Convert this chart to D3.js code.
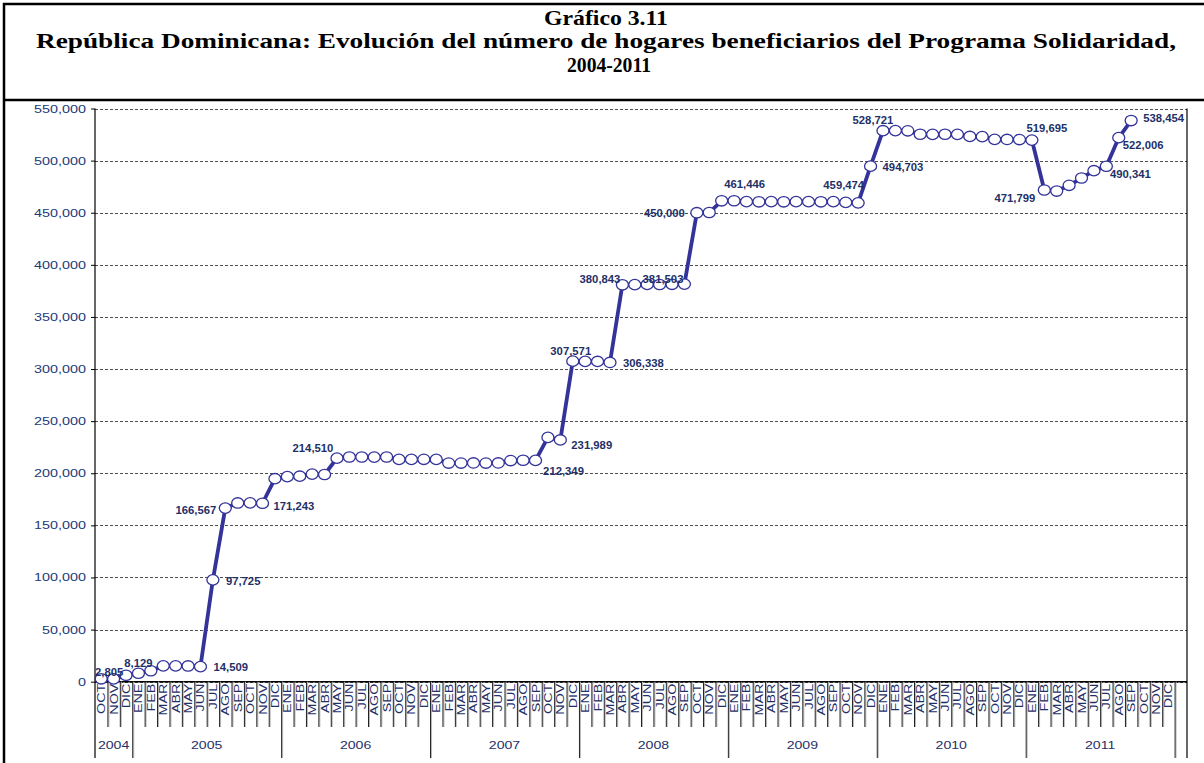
<!DOCTYPE html>
<html>
<head>
<meta charset="utf-8">
<title>Gráfico 3.11</title>
<script src="https://d3js.org/d3.v7.min.js"></script>
<style>
  body { margin: 0; background: #fff; }
</style>
</head>
<body>
<div id="chart"></div>
<script>
// months and years on the category axis
var months = ["ENE", "FEB", "MAR", "ABR", "MAY", "JUN", "JUL", "AGO", "SEP", "OCT", "NOV", "DIC"];
var years = ["2004", "2005", "2006", "2007", "2008", "2009", "2010", "2011"];
var firstMonth2004 = 9; // series starts in OCT 2004

// hogares beneficiarios, OCT 2004 .. SEP 2011
var hogares = [
  2805, 2700, 6200,
  8129, 10500, 15200, 15200, 15100, 14509, 97725, 166567, 171500, 171600, 171243, 194800,
  196800, 197200, 199200, 198800, 214510, 215600, 215600, 215500, 215600, 213300, 213300, 213400,
  213300, 209800, 209800, 209900, 209800, 209900, 212200, 212500, 212349, 234400, 231989, 307571,
  307400, 307300, 306338, 380843, 381000, 381200, 381100, 381300, 381503, 450000, 450200, 461446,
  461500, 460600, 460500, 460600, 460500, 460600, 460600, 460500, 460600, 459900, 459474, 494703,
  528721, 528800, 528600, 525300, 525200, 525300, 525200, 523200, 523000, 520400, 520300, 520200,
  519695, 471799, 470800, 476300, 483300, 490341, 494600, 522006, 538454
];

// points that carry a value label
var labelIdx = [0, 3, 8, 9, 10, 13, 19, 35, 37, 38, 41, 42, 47, 48, 50, 61, 62, 63, 75, 76, 80, 82, 83];

var yTicks = d3.range(0, 550001, 50000);

// label placement (offset from point, anchor)
var labelPos = {
  0: [8, -7, "middle"], 3: [0, -10, "middle"], 8: [13, 0, "start"], 9: [13, 1, "start"],
  10: [-9, 2, "end"], 13: [11, 3, "start"], 19: [-24, -10, "middle"], 35: [28, 11, "middle"],
  37: [11, 5, "start"], 38: [-2, -10, "middle"], 41: [13, 1, "start"], 42: [-2, -6, "end"],
  47: [-1, -5, "end"], 48: [-12, 0, "end"], 50: [23, -17, "middle"], 61: [6, -18, "end"],
  62: [12, 1, "start"], 63: [-10, -11, "middle"], 75: [15, -12, "middle"], 76: [-9, 8, "end"],
  80: [16, 3, "start"], 82: [4, 7, "start"], 83: [12, -3, "start"]
};

var W = 1204, H = 763;
var plotL = 95, plotR = 1187, plotT = 108.5, plotB = 681.7;
var tickBottom = 727, yearBottom = 758;
var navy = "#1f3068", lineColor = "#333399";

// category list: one entry per month, plus one empty slot at the end
var cats = [];
years.forEach(function(yr, yi) {
  var start = yi === 0 ? firstMonth2004 : 0;
  for (var m = start; m < 12; m++) cats.push({ month: months[m], year: yr });
});
cats.push({ month: "", year: "" });

var svg = d3.select("#chart").append("svg")
  .attr("width", W)
  .attr("height", H)
  .style("font-family", "'Liberation Sans', Arial, sans-serif");

var x = d3.scaleBand().domain(d3.range(cats.length)).range([plotL, plotR]).padding(0);
var y = d3.scaleLinear().domain([0, 550000]).range([plotB, plotT]);

// frame
svg.append("line").attr("x1", 4).attr("x2", 4).attr("y1", 3).attr("y2", H)
  .attr("stroke", "#000").attr("stroke-width", 2.5);
svg.append("line").attr("x1", 3).attr("x2", W).attr("y1", 4).attr("y2", 4)
  .attr("stroke", "#000").attr("stroke-width", 2.5);
svg.append("line").attr("x1", 3).attr("x2", W).attr("y1", 100).attr("y2", 100)
  .attr("stroke", "#000").attr("stroke-width", 2.5);

// title
var title = svg.append("g")
  .style("font-family", "'Liberation Serif', 'Times New Roman', serif")
  .style("font-weight", "bold")
  .style("font-size", "22px")
  .attr("text-anchor", "middle");
title.append("text").attr("x", 606).attr("y", 25)
  .attr("textLength", 124).attr("lengthAdjust", "spacingAndGlyphs")
  .text("Gráfico 3.11");
title.append("text").attr("x", 606).attr("y", 48)
  .attr("textLength", 1140).attr("lengthAdjust", "spacingAndGlyphs")
  .text("República Dominicana: Evolución del número de hogares beneficiarios del Programa Solidaridad,");
title.append("text").attr("x", 609).attr("y", 72)
  .attr("textLength", 84).attr("lengthAdjust", "spacingAndGlyphs")
  .text("2004-2011");

// gridlines
svg.append("g").selectAll("line").data(yTicks).enter().append("line")
  .attr("x1", plotL).attr("x2", plotR)
  .attr("y1", function(d) { return Math.round(y(d)) + 0.5; })
  .attr("y2", function(d) { return Math.round(y(d)) + 0.5; })
  .attr("stroke", "#222").attr("stroke-width", 0.8)
  .attr("stroke-dasharray", "3,2");

// y axis ticks
var yAxis = svg.append("g").attr("transform", "translate(" + plotL + ",0)")
  .call(d3.axisLeft(y).tickValues(yTicks).tickSize(4).tickFormat(function() { return ""; }));
yAxis.select(".domain").remove();
yAxis.selectAll(".tick line").attr("stroke", "#000");

svg.append("g").selectAll("g").data(yTicks).enter().append("g")
  .attr("transform", function(d) { return "translate(86," + (y(d) + 4) + ") scale(1.25,1)"; })
  .append("text")
  .attr("text-anchor", "end")
  .attr("fill", "#24397a")
  .style("font-size", "11.5px")
  .text(d3.format(","));

// axis lines
svg.append("line").attr("x1", plotL).attr("x2", plotL).attr("y1", plotT).attr("y2", yearBottom)
  .attr("stroke", "#000").attr("stroke-width", 1.2);
svg.append("line").attr("x1", plotR).attr("x2", plotR).attr("y1", plotT).attr("y2", yearBottom)
  .attr("stroke", "#000").attr("stroke-width", 1.2);
svg.append("line").attr("x1", plotL).attr("x2", plotR).attr("y1", plotB).attr("y2", plotB)
  .attr("stroke", "#000").attr("stroke-width", 1.5);

// category separators
var yearStarts = [0];
cats.forEach(function(c, i) { if (i > 0 && c.year !== cats[i - 1].year) yearStarts.push(i); });
var bounds = d3.range(1, cats.length);
svg.append("g").selectAll("line").data(bounds).enter().append("line")
  .attr("x1", function(i) { return x(i) + 1.5; })
  .attr("x2", function(i) { return x(i) + 1.5; })
  .attr("y1", plotB)
  .attr("y2", function(i) { return yearStarts.indexOf(i) >= 0 ? yearBottom : tickBottom; })
  .attr("stroke", "#bbb").attr("stroke-width", 1);
svg.append("g").selectAll("line").data(bounds).enter().append("line")
  .attr("x1", function(i) { return x(i) + 0.5; })
  .attr("x2", function(i) { return x(i) + 0.5; })
  .attr("y1", plotB)
  .attr("y2", function(i) { return yearStarts.indexOf(i) >= 0 ? yearBottom : tickBottom; })
  .attr("stroke", "#222").attr("stroke-width", 1);

// month labels
svg.append("g").selectAll("g").data(cats).enter().append("g")
  .attr("transform", function(d, i) {
    return "translate(" + (x(i) + x.bandwidth() / 2 + 4) + "," + (plotB + 2) + ") rotate(-90) scale(1.3,1)";
  })
  .append("text")
  .attr("text-anchor", "end")
  .attr("fill", navy)
  .style("font-size", "11px")
  .text(function(d) { return d.month; });

// year labels
var yearSpans = yearStarts.map(function(s, k) {
  var e = k + 1 < yearStarts.length ? yearStarts[k + 1] : cats.length - 1;
  return { year: cats[s].year, start: s, end: e };
}).filter(function(d) { return d.year !== ""; });
svg.append("g").selectAll("g").data(yearSpans).enter().append("g")
  .attr("transform", function(d) {
    return "translate(" + ((x(d.start) + x(d.end)) / 2) + ",749) scale(1.28,1)";
  })
  .append("text")
  .attr("text-anchor", "middle")
  .attr("fill", navy)
  .style("font-size", "11px")
  .text(function(d) { return d.year; });

// series line
var line = d3.line()
  .x(function(d, i) { return x(i) + x.bandwidth() / 2; })
  .y(function(d) { return y(d); });
svg.append("path")
  .datum(hogares)
  .attr("fill", "none")
  .attr("stroke", lineColor)
  .attr("stroke-width", 3.8)
  .attr("stroke-linejoin", "round")
  .attr("d", line);

svg.append("g").selectAll("ellipse").data(hogares).enter().append("ellipse")
  .attr("cx", function(d, i) { return x(i) + x.bandwidth() / 2; })
  .attr("cy", function(d) { return y(d); })
  .attr("rx", 6).attr("ry", 5.2)
  .attr("fill", "#fff")
  .attr("stroke", lineColor)
  .attr("stroke-width", 1.3);

// value labels
svg.append("g").selectAll("text").data(labelIdx).enter().append("text")
  .attr("x", function(i) { return x(i) + x.bandwidth() / 2 + labelPos[i][0]; })
  .attr("y", function(i) { return y(hogares[i]) + labelPos[i][1] + 4; })
  .attr("text-anchor", function(i) { return labelPos[i][2]; })
  .attr("fill", navy)
  .style("font-size", "11.3px")
  .style("font-weight", "bold")
  .text(function(i) { return d3.format(",")(hogares[i]); });
</script>
</body>
</html>
